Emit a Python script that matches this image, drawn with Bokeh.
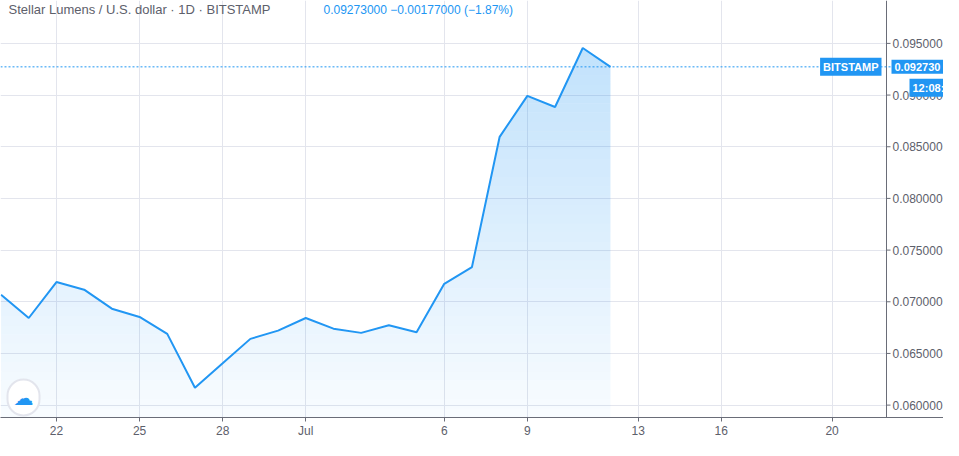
import numpy as np
import pandas as pd
from bokeh.plotting import figure
from bokeh.models import (Range1d, FixedTicker, Span, Label, BoxAnnotation)
from bokeh.core.properties import value
from bokeh.embed import file_html
from bokeh.resources import INLINE

# ---- data (XLM/USD daily close, BITSTAMP) ----
dates = ["2020-06-20", "2020-06-21", "2020-06-22", "2020-06-23", "2020-06-24",
         "2020-06-25", "2020-06-26", "2020-06-27", "2020-06-28", "2020-06-29",
         "2020-06-30", "2020-07-01", "2020-07-02", "2020-07-03", "2020-07-04",
         "2020-07-05", "2020-07-06", "2020-07-07", "2020-07-08", "2020-07-09",
         "2020-07-10", "2020-07-11", "2020-07-12"]
closes = [0.07068, 0.06843, 0.07191, 0.07117, 0.06933, 0.06853, 0.06689,
          0.06168, 0.06404, 0.06641, 0.06721, 0.06843, 0.06740, 0.06699,
          0.06772, 0.06705, 0.07174, 0.07336, 0.08596, 0.08992, 0.08885,
          0.09455, 0.09273]
tick_dates = ["2020-06-22", "2020-06-25", "2020-06-28", "2020-07-01", "2020-07-06",
              "2020-07-09", "2020-07-13", "2020-07-16", "2020-07-20"]
tick_labels = ["22", "25", "28", "Jul", "6", "9", "13", "16", "20"]
price_ticks = [0.060, 0.065, 0.070, 0.075, 0.080, 0.085, 0.090, 0.095]
price_labels = ["0.060000", "0.065000", "0.070000", "0.075000",
                "0.080000", "0.085000", "0.090000", "0.095000"]
title_text = "Stellar Lumens / U.S. dollar \u00b7 1D \u00b7 BITSTAMP"
change_text = "0.09273000 \u22120.00177000 (\u22121.87%)"
exchange = "BITSTAMP"
countdown = "12:08:"

BLUE = "#2196f3"
GRID = "#e3e5ed"
AXIS = "#6a6d78"
TEXT = "#5d606b"

# ---- layout constants ----
W, H = 943, 440
BOTTOM = 22                 # time-axis strip height
PX_PER_DAY = 27.7
PX_PER_UNIT = 10360.0       # pixels per 1.0 of price
AXIS_PX = 886               # x pixel of the price-scale separator

base = pd.Timestamp(dates[0])
xs = np.array([(pd.Timestamp(d) - base).days for d in dates], dtype=float)
ys = np.array(closes)
tick_x = [(pd.Timestamp(d) - base).days for d in tick_dates]

x0 = -0.02
x1 = x0 + W / PX_PER_DAY
y1 = 0.09915
y0 = y1 - (H - BOTTOM) / PX_PER_UNIT
axis_x = x0 + AXIS_PX / PX_PER_DAY

p = figure(width=W, height=H, x_range=Range1d(x0, x1), y_range=Range1d(y0, y1),
           y_axis_location=None, output_backend="svg", toolbar_location=None,
           min_border_left=0, min_border_top=0, min_border_right=0,
           min_border_bottom=BOTTOM)
p.outline_line_color = None
p.background_fill_color = "white"
p.border_fill_color = "white"

# time axis
p.xaxis.ticker = FixedTicker(ticks=tick_x, minor_ticks=[])
p.xgrid.ticker = FixedTicker(ticks=tick_x, minor_ticks=[])
p.xaxis.major_label_overrides = {t: l for t, l in zip(tick_x, tick_labels)}
ax = p.xaxis[0]
ax.axis_line_color = AXIS
ax.major_tick_line_color = AXIS
ax.major_tick_out = 4
ax.major_tick_in = 0
ax.minor_tick_line_color = None
ax.major_label_text_color = TEXT
ax.major_label_text_font = "Liberation Sans"
ax.major_label_text_font_size = "12px"
ax.major_label_standoff = 2
p.xgrid.grid_line_color = GRID
p.ygrid.ticker = FixedTicker(ticks=price_ticks, minor_ticks=[])
p.ygrid.grid_line_color = GRID

# price-scale strip on the right
p.add_layout(BoxAnnotation(left=axis_x, fill_color="white", fill_alpha=1.0,
                           line_color=None, level="underlay"))
p.add_layout(Span(location=axis_x, dimension="height", line_color=AXIS, line_width=1))
p.segment(x0=[axis_x] * len(price_ticks), x1=[axis_x + 4 / PX_PER_DAY] * len(price_ticks),
          y0=price_ticks, y1=price_ticks, line_color=AXIS, line_width=1)
p.text(x=[axis_x] * len(price_ticks), y=price_ticks, text=price_labels,
       x_offset=6, text_font=value("Liberation Sans"), text_font_size="12px",
       text_color=TEXT, text_baseline="middle", text_align="left")

# gradient area under the line (horizontal bands)
fine = np.union1d(xs, np.linspace(xs[0], xs[-1], 800))
line_fine = np.interp(fine, xs, ys)
ymax = ys.max()
edges = np.linspace(y0, ymax, 41)
for a, b in zip(edges[:-1], edges[1:]):
    top = np.clip(line_fine, a, b)
    frac = ((a + b) / 2 - y0) / (ymax - y0)
    p.varea(x=fine, y1=a, y2=top, fill_color=BLUE, fill_alpha=0.03 + 0.25 * frac)

# last price dashed line
p.add_layout(Span(location=closes[-1], dimension="width", line_color=BLUE,
                  line_width=1, line_dash="2 2"))

p.line(xs, ys, line_color=BLUE, line_width=2)

# header texts
p.add_layout(Label(x=x0, y=y1, x_offset=8, y_offset=-9, text=title_text,
                   text_font="Liberation Sans", text_font_size="13px",
                   text_color=TEXT, text_baseline="middle", text_align="left"))
p.add_layout(Label(x=x0, y=y1, x_offset=323, y_offset=-9, text=change_text,
                   text_font="Liberation Sans", text_font_size="12px",
                   text_color=BLUE, text_baseline="middle", text_align="left"))

# exchange / price / countdown boxes
p.add_layout(Label(x=axis_x, y=closes[-1], x_offset=-5, text=exchange,
                   text_font="Liberation Sans", text_font_size="11px",
                   text_font_style="bold", text_color="white",
                   background_fill_color=BLUE, padding=3,
                   text_baseline="middle", text_align="right"))
p.add_layout(Label(x=axis_x, y=closes[-1], x_offset=5, text="%.6f" % closes[-1],
                   text_font="Liberation Sans", text_font_size="11px",
                   text_font_style="bold", text_color="white",
                   background_fill_color=BLUE, padding=3,
                   text_baseline="middle", text_align="left"))
p.add_layout(Label(x=axis_x, y=closes[-1], x_offset=23, y_offset=-21, text=countdown,
                   text_font="Liberation Sans", text_font_size="11px",
                   text_font_style="bold", text_color="white",
                   background_fill_color=BLUE, padding=3,
                   text_baseline="middle", text_align="left"))

# logo badge
p.add_layout(Label(x=x0, y=y0, x_offset=23, y_offset=20, text="\u2601",
                   text_font="DejaVu Sans", text_font_size="20px",
                   text_color=BLUE, text_baseline="middle", text_align="center",
                   background_fill_color="white", border_line_color=GRID,
                   border_line_width=2, padding=6, border_radius=17))

open("out.html", "w").write(file_html(p, INLINE))
